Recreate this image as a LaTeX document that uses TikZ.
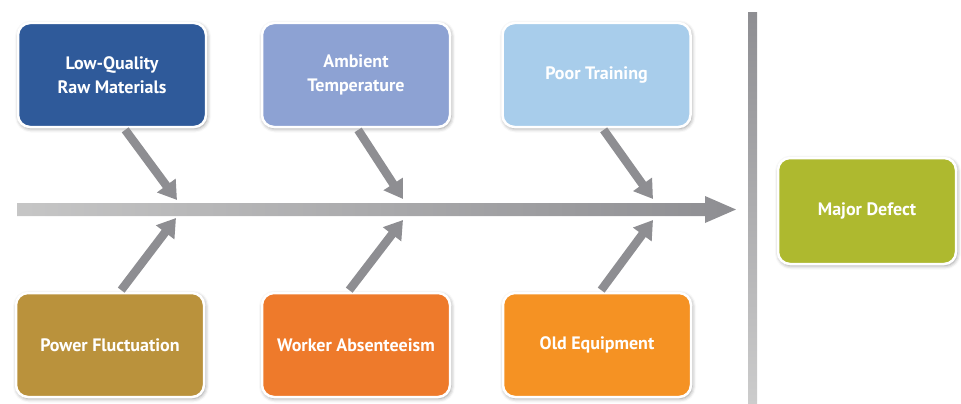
\documentclass[tikz,border=0pt]{standalone}
\usepackage{fontspec}
\setsansfont{PT Sans}
\usetikzlibrary{arrows.meta,shadows.blur}

\definecolor{rawblue}{HTML}{2F5A9A}
\definecolor{tempblue}{HTML}{8DA2D3}
\definecolor{trainblue}{HTML}{A8CDEB}
\definecolor{powerbrown}{HTML}{BA923C}
\definecolor{workerorange}{HTML}{EE7A2B}
\definecolor{equiporange}{HTML}{F59223}
\definecolor{defectgreen}{HTML}{AEB92F}
\definecolor{bonegray}{HTML}{8E8E92}

\tikzset{
  causebox/.style={draw=white, line width=2.5pt, rounded corners=12pt,
    minimum width=188pt, minimum height=104pt, align=center, text=white,
    font=\sffamily\bfseries\fontsize{18}{24}\selectfont,
    blur shadow={shadow xshift=1pt, shadow yshift=-1.5pt,
      shadow blur radius=4pt, shadow opacity=45}},
  bone/.style={draw=bonegray, line width=8.5pt, shorten <=2pt,
    -{Triangle[width=22pt,length=18pt]}}
}

\begin{document}
\begin{tikzpicture}[x=1pt,y=-1pt]
\useasboundingbox (0,0) rectangle (961,404);
\def\top{75}
\def\bot{345}

% spine and the cut line
\shade[left color=gray!45, right color=bonegray]
  (17,203) -- (705,203) -- (705,196) -- (736,209.5) -- (705,223)
  -- (705,216) -- (17,216) -- cycle;
\shade[top color=bonegray, bottom color=gray!40] (748,13) rectangle (757,404);

\foreach \n/\x/\y/\c/\t in {b1/112/\top/rawblue/{Low-Quality\\Raw Materials},
    b2/356/\top/tempblue/{Ambient\\Temperature},
    b3/596.5/\top/trainblue/{Poor Training},
    b4/110/\bot/powerbrown/{Power Fluctuation},
    b5/356/\bot/workerorange/{Worker Absenteeism},
    b6/597/\bot/equiporange/{Old Equipment}}
{
    \node[causebox, fill=\c] (\n) at (\x,\y) {\t};
}

\node[causebox, fill=defectgreen, minimum width=178pt, minimum height=106pt]
  (defect) at (867,211) {Major Defect};

% tips on the spine
\coordinate (t1) at (177,200);
\coordinate (t2) at (403,199);
\coordinate (t3) at (653,199);
\coordinate (u1) at (176,218);
\coordinate (u2) at (403,220);
\coordinate (u3) at (653,220);

\foreach \n/\s/\t in {b1/12/t1, b2/1/t2, b3/6/t3}
    \draw[bone] ([xshift=\s pt]\n.south) -- (\t);

%repeat the same from below
\foreach \n/\s/\t in {b4/10/u1, b5/-8/u2, b6/3/u3}
    \draw[bone] ([xshift=\s pt]\n.north) -- (\t);

\end{tikzpicture}
\end{document}
